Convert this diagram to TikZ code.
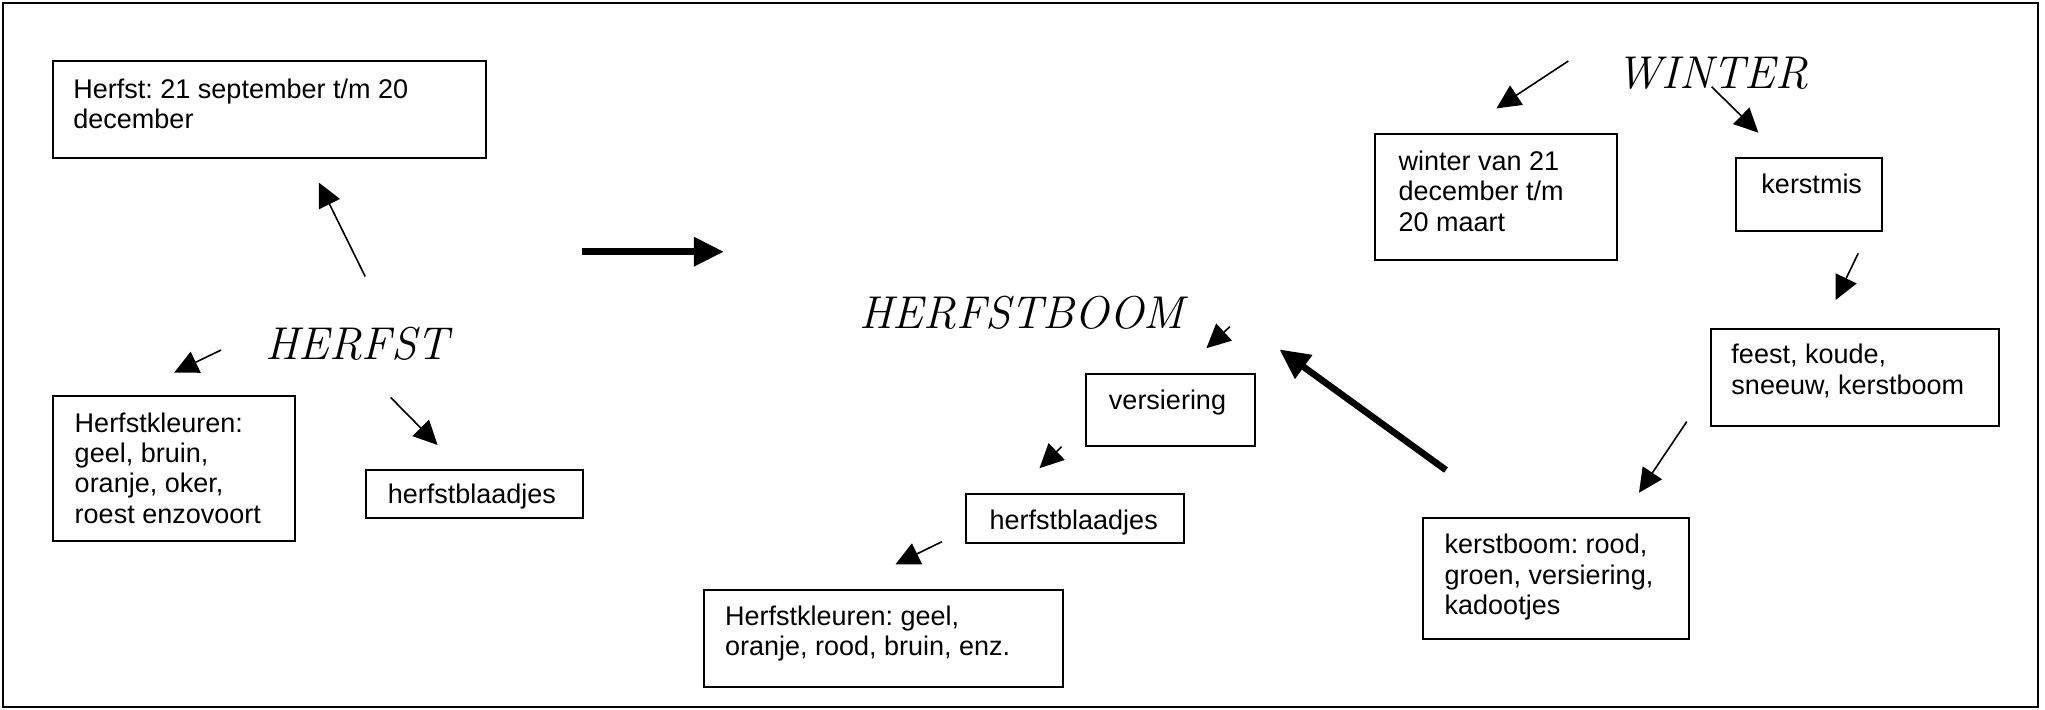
\documentclass[tikz,border=0pt]{standalone}
\usepackage{fontspec}
\newfontfamily\arial{Liberation Sans}
\usetikzlibrary{arrows.meta,fit}
\frenchspacing
\begin{document}
\begin{tikzpicture}[x=0.652pt,y=-0.652pt,
  box/.style={draw, line width=1pt, inner sep=0pt},
  txt/.style={anchor=north west, inner sep=0pt, align=left, yshift=10.64pt,
    font=\arial\fontsize{13.5}{15.2}\selectfont},
  title/.style={anchor=base, inner sep=0pt, font=\fontsize{23}{27}\selectfont\itshape},
  thinarrow/.style={line width=0.8pt, -{Triangle[length=12pt,width=11.5pt]}},
  thickarrow/.style={line width=3.3pt, -{Triangle[length=15pt,width=14pt]}}]
\useasboundingbox (0,0) rectangle (1568,544);
\draw[line width=1pt] (2,2) rectangle (1563,542);

% boxes
\node[box, fit={(41,47) (373,121)}] (b1) {};
\node[box, fit={(41,304) (226,415)}] (b2) {};
\node[box, fit={(281,360) (447,397)}] (b3) {};
\node[box, fit={(833,287) (962,342)}] (b4) {};
\node[box, fit={(741,379) (907.5,416)}] (b5) {};
\node[box, fit={(539.5,452.4) (815,526.5)}] (b6) {};
\node[box, fit={(1054.5,102.7) (1240,199.4)}] (b7) {};
\node[box, fit={(1331,121) (1443,177)}] (b8) {};
\node[box, fit={(1312,252.5) (1533,326.4)}] (b9) {};
\node[box, fit={(1091,397.4) (1295,490.2)}] (b10) {};

% texts
\node[txt] (t1) at (56,75) {\strut Herfst: 21 september t/m 20\\december};
\node[txt] (t2) at (57,331) {\strut Herfstkleuren:\\geel, bruin,\\oranje, oker,\\roest enzovoort};
\node[txt] (t3) at (297,386) {\strut herfstblaadjes};
\node[txt] (t4) at (850,313.9) {\strut versiering};
\node[txt] (t5) at (758.5,405.9) {\strut herfstblaadjes};
\node[txt] (t6) at (555.6,479.2) {\strut Herfstkleuren: geel,\\oranje, rood, bruin, enz.};
\node[txt] (t7) at (1072,130.3) {\strut winter van 21\\december t/m\\20 maart};
\node[txt] (t8) at (1350.3,147.7) {\strut kerstmis};
\node[txt] (t9) at (1327.3,278.6) {\strut feest, koude,\\sneeuw, kerstboom};
\node[txt] (t10) at (1107.4,424.3) {\strut kerstboom: rood,\\groen, versiering,\\kadootjes};

% titles
\node[title] (herfst) at (273.7,276) {HERFST};
\node[title] (herfstboom) at (783.3,251.7) {HERFSTBOOM};
\node[title] (winter) at (1313,67.7) {WINTER};

% arrow end points
\coordinate (a1s) at (280,212);     \coordinate (a1e) at (244.5,140);
\coordinate (a2s) at (169.5,268.4); \coordinate (a2e) at (133.5,285.7);
\coordinate (a3s) at (299.5,304.7); \coordinate (a3e) at (335.5,341.2);
\coordinate (a4s) at (446,193);     \coordinate (a4e) at (555,193);
\coordinate (a5s) at (943,250.5);   \coordinate (a5e) at (925,267);
\coordinate (a6s) at (814,342.5);   \coordinate (a6e) at (797,359);
\coordinate (a7s) at (722.3,415.3); \coordinate (a7e) at (686.6,432.7);
\coordinate (a8s) at (1108.7,360.4);\coordinate (a8e) at (981,267.9);
\coordinate (a9s) at (1202.5,46.8); \coordinate (a9e) at (1147.4,83.1);
\coordinate (a10s) at (1312.4,66.5);\coordinate (a10e) at (1348.2,101.7);
\coordinate (a11s) at (1424.8,194.2);\coordinate (a11e) at (1407.5,230);
\coordinate (a12s) at (1293.3,323.3);\coordinate (a12e) at (1256.7,377.8);

\draw[thinarrow] (a1s) -- (a1e);
\draw[thinarrow] (a2s) -- (a2e);
\draw[thinarrow] (a3s) -- (a3e);
\draw[thickarrow] (a4s) -- (a4e);
\draw[thinarrow] (a5s) -- (a5e);
\draw[thinarrow] (a6s) -- (a6e);
\draw[thinarrow] (a7s) -- (a7e);
\draw[thickarrow] (a8s) -- (a8e);
\draw[thinarrow] (a9s) -- (a9e);
\draw[thinarrow] (a10s) -- (a10e);
\draw[thinarrow] (a11s) -- (a11e);
\draw[thinarrow] (a12s) -- (a12e);
\end{tikzpicture}
\end{document}
